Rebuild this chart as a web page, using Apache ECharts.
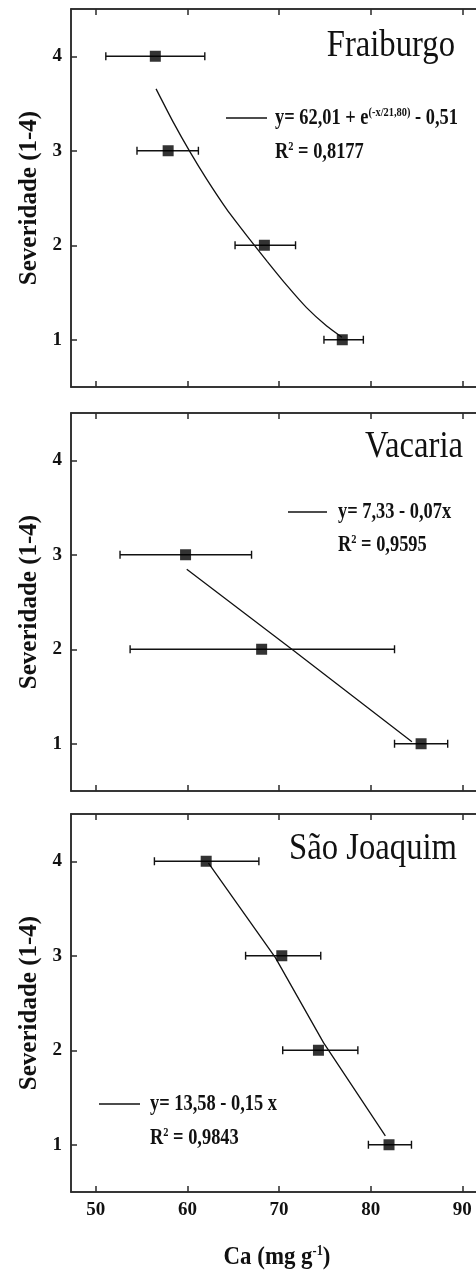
<!DOCTYPE html>
<html>
<head>
<meta charset="utf-8">
<script src="https://cdn.jsdelivr.net/npm/echarts@6/dist/echarts.min.js"></script>
<style>
html, body { margin: 0; padding: 0; background: #fff; overflow: hidden; }
#chart { width: 520px; height: 1276px; }
</style>
</head>
<body>
<div id="chart"></div>
<script>
// ---- data ----
const xTicks = [50, 60, 70, 80, 90];
const yTicks = [1, 2, 3, 4];
const siteNames = ['Fraiburgo', 'Vacaria', 'São Joaquim'];

const fraiburgoSev  = [4, 3, 2, 1];
const fraiburgoCa   = [56.5, 57.9, 68.4, 76.9];
const fraiburgoLow  = [51.1, 54.5, 65.2, 74.9];
const fraiburgoHigh = [61.9, 61.2, 71.8, 79.2];
const fraiburgoFitX = [56.58, 58.47, 60.3, 62.1, 64.3, 66.5, 68.7, 70.85, 73.0, 75.2, 76.86];
const fraiburgoFitY = [3.655, 3.30, 2.985, 2.70, 2.38, 2.10, 1.83, 1.575, 1.34, 1.145, 1.027];

const vacariaSev  = [3, 2, 1];
const vacariaCa   = [59.8, 68.1, 85.5];
const vacariaLow  = [52.65, 53.75, 82.6];
const vacariaHigh = [67.0, 82.6, 88.4];
const vacariaFitX = [59.93, 71.4, 84.5];
const vacariaFitY = [2.847, 2.0, 1.02];

const saoSev  = [4, 3, 2, 1];
const saoCa   = [62.05, 70.3, 74.3, 82.0];
const saoLow  = [56.4, 66.35, 70.4, 79.75];
const saoHigh = [67.8, 74.55, 78.6, 84.45];
const saoFitX = [62.3, 69.6, 74.85, 81.6];
const saoFitY = [3.98, 2.98, 2.08, 1.095];

const equations = [
  { eq: '{b|y= 62,01 + e}{s|(-x/21,80)}{b| - 0,51}', r2: '{b|R}{s|2}{b| = 0,8177}' },
  { eq: '{b|y= 7,33 - 0,07x}', r2: '{b|R}{s|2}{b| = 0,9595}' },
  { eq: '{b|y= 13,58 - 0,15 x}', r2: '{b|R}{s|2}{b| = 0,9843}' }
];

// ---- layout ----
const X_MIN = 47.3, X_MAX = 94.0;
const Y_MIN = 0.5, Y_MAX = 4.5;
const gridTops = [9, 413, 814];
const GRID_H = 378, GRID_LEFT = 71, GRID_RIGHT = 21;
const SERIF = '"Liberation Serif", "Times New Roman", serif';
const AX = '#2a2a2a';

const panels = [
  { sev: fraiburgoSev, ca: fraiburgoCa, lo: fraiburgoLow, hi: fraiburgoHigh, fx: fraiburgoFitX, fy: fraiburgoFitY, smooth: 0.2 },
  { sev: vacariaSev, ca: vacariaCa, lo: vacariaLow, hi: vacariaHigh, fx: vacariaFitX, fy: vacariaFitY, smooth: false },
  { sev: saoSev, ca: saoCa, lo: saoLow, hi: saoHigh, fx: saoFitX, fy: saoFitY, smooth: false }
];

const grids = [], xAxes = [], yAxes = [], series = [];
panels.forEach((p, i) => {
  grids.push({ left: GRID_LEFT, right: GRID_RIGHT, top: gridTops[i], height: GRID_H,
               show: true, borderColor: AX, borderWidth: 1.5, backgroundColor: 'transparent' });
  xAxes.push({
    type: 'value', gridIndex: i, min: X_MIN, max: X_MAX, position: 'bottom',
    axisLine: { show: true, onZero: false, lineStyle: { color: AX, width: 1.5 } },
    axisTick: { show: true, inside: true, length: 6, customValues: xTicks, lineStyle: { color: AX, width: 1.5 } },
    axisLabel: { show: i === 2, customValues: xTicks, margin: 9, color: '#111',
                 fontFamily: SERIF, fontWeight: 'bold', fontSize: 19 },
    splitLine: { show: false }
  });
  xAxes.push({
    type: 'value', gridIndex: i, min: X_MIN, max: X_MAX, position: 'top',
    axisLine: { show: true, onZero: false, lineStyle: { color: AX, width: 1.5 } },
    axisTick: { show: true, inside: true, length: 6, customValues: xTicks, lineStyle: { color: AX, width: 1.5 } },
    axisLabel: { show: false },
    splitLine: { show: false }
  });
  yAxes.push({
    type: 'value', gridIndex: i, min: Y_MIN, max: Y_MAX, position: 'left',
    name: 'Severidade (1-4)', nameLocation: 'middle', nameRotate: 90, nameGap: 27,
    nameTextStyle: { fontFamily: SERIF, fontWeight: 'bold', fontSize: 25, color: '#111' },
    axisLine: { show: true, onZero: false, lineStyle: { color: AX, width: 1.5 } },
    axisTick: { show: true, inside: true, length: 6, customValues: yTicks, lineStyle: { color: AX, width: 1.5 } },
    axisLabel: { show: true, customValues: yTicks, margin: 9, color: '#111',
                 fontFamily: SERIF, fontWeight: 'bold', fontSize: 19 },
    splitLine: { show: false }
  });

  // error bars
  series.push({
    type: 'custom', xAxisIndex: i * 2, yAxisIndex: i, z: 2,
    data: p.sev.map((s, k) => [p.lo[k], p.hi[k], s]),
    renderItem: function (params, api) {
      const a = api.coord([api.value(0), api.value(2)]);
      const b = api.coord([api.value(1), api.value(2)]);
      const c = 4;
      const st = { stroke: '#111', lineWidth: 1.4 };
      return { type: 'group', children: [
        { type: 'line', shape: { x1: a[0], y1: a[1], x2: b[0], y2: b[1] }, style: st },
        { type: 'line', shape: { x1: a[0], y1: a[1] - c, x2: a[0], y2: a[1] + c }, style: st },
        { type: 'line', shape: { x1: b[0], y1: b[1] - c, x2: b[0], y2: b[1] + c }, style: st }
      ]};
    }
  });
  // fitted line
  series.push({
    type: 'line', xAxisIndex: i * 2, yAxisIndex: i, z: 3,
    data: p.fx.map((x, k) => [x, p.fy[k]]),
    showSymbol: false, smooth: p.smooth,
    lineStyle: { color: '#111', width: 1.3 }
  });
  // means
  series.push({
    type: 'scatter', xAxisIndex: i * 2, yAxisIndex: i, z: 4,
    data: p.sev.map((s, k) => [p.ca[k], s]),
    symbol: 'rect', symbolSize: 11,
    itemStyle: { color: '#000' }
  });
});

// ---- annotations ----
const titlePos = [ { x: 455, y: 46, align: 'right' }, { x: 463, y: 447, align: 'right' }, { x: 457, y: 849, align: 'right' } ];
const eqPos = [ { lx1: 226, lx2: 267, x: 275, y: 118, y2: 152 },
                { lx1: 288, lx2: 327, x: 338, y: 512, y2: 545 },
                { lx1: 99,  lx2: 140, x: 150, y: 1104, y2: 1138 } ];
const richEq = {
  b: { fontFamily: SERIF, fontWeight: 'bold', fontSize: 23, fill: '#111', color: '#111' },
  s: { fontFamily: SERIF, fontWeight: 'bold', fontSize: 13, fill: '#111', color: '#111', verticalAlign: 'top' }
};
const graphics = [];
siteNames.forEach((name, i) => {
  const t = titlePos[i];
  graphics.push({ type: 'text', x: t.x, y: t.y, scaleX: 0.86, z: 10,
    style: { text: name, fill: '#111', font: '38px ' + SERIF, align: t.align, verticalAlign: 'middle',
             textAlign: t.align, textVerticalAlign: 'middle' } });
  const e = eqPos[i];
  graphics.push({ type: 'line', z: 10, shape: { x1: e.lx1, y1: e.y, x2: e.lx2, y2: e.y }, style: { stroke: '#111', lineWidth: 1.3 } });
  graphics.push({ type: 'text', x: e.x, y: e.y, scaleX: 0.8, z: 10,
    style: { text: equations[i].eq, rich: richEq, align: 'left', verticalAlign: 'middle',
             textAlign: 'left', textVerticalAlign: 'middle' } });
  graphics.push({ type: 'text', x: e.x, y: e.y2, scaleX: 0.8, z: 10,
    style: { text: equations[i].r2, rich: richEq, align: 'left', verticalAlign: 'middle',
             textAlign: 'left', textVerticalAlign: 'middle' } });
});
graphics.push({ type: 'text', x: 277, y: 1257, scaleX: 0.88, z: 10,
  style: { text: '{b|Ca (mg g}{s|-1}{b|)}', align: 'center', verticalAlign: 'middle',
           textAlign: 'center', textVerticalAlign: 'middle',
           rich: {
             b: { fontFamily: SERIF, fontWeight: 'bold', fontSize: 26, fill: '#111', color: '#111' },
             s: { fontFamily: SERIF, fontWeight: 'bold', fontSize: 14, fill: '#111', color: '#111', verticalAlign: 'top' }
           } } });

const chart = echarts.init(document.getElementById('chart'), null, { renderer: 'canvas' });
chart.setOption({
  animation: false,
  backgroundColor: '#fff',
  grid: grids, xAxis: xAxes, yAxis: yAxes, series: series,
  graphic: graphics
});
</script>
</body>
</html>
